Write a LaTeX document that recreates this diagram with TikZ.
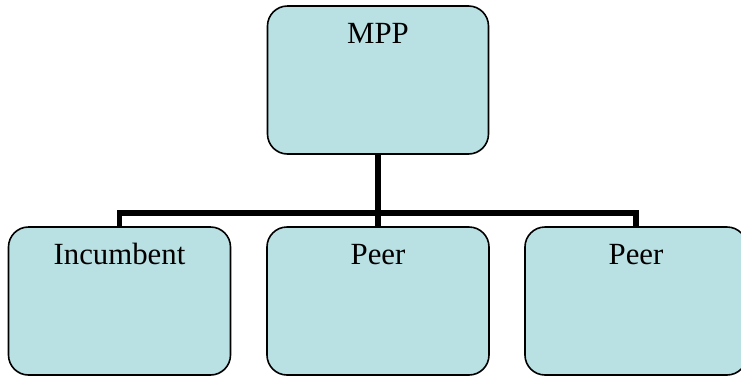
\documentclass[tikz,border=0pt]{standalone}
\usepackage{fontspec}
\setmainfont{Liberation Serif}
\definecolor{boxfill}{RGB}{185,224,227}
\tikzset{
  orgbox/.style={draw=black, line width=0.8pt, fill=boxfill, rounded corners=10pt,
    minimum width=111pt, inner xsep=0pt, inner ysep=8pt,
    text height=10.8pt, text depth=47.2pt, font=\fontsize{15.4}{18}\selectfont},
  bus/.style={line width=2.6pt, line join=miter}
}

\begin{document}
\begin{tikzpicture}[x=0.5pt, y=0.5pt]
      \useasboundingbox (0,0) rectangle (741,377);

       %draw top box
      \node[orgbox, minimum width=110.5pt] (mpp) at (378,297) {MPP};

       %draw bottom boxes
      \foreach \x/\n/\t in {119.5/inc/Incumbent, 378/peerA/Peer, 636/peerB/Peer} {%
        \node[orgbox] (\n) at (\x,76) {\t};
      }

      % draw connectors
      \coordinate (junction) at (378,164);
      \draw[bus] (mpp.south) -- (peerA.north);
      \draw[bus] (inc.north) |- (junction) -| (peerB.north);
\end{tikzpicture}
\end{document}
